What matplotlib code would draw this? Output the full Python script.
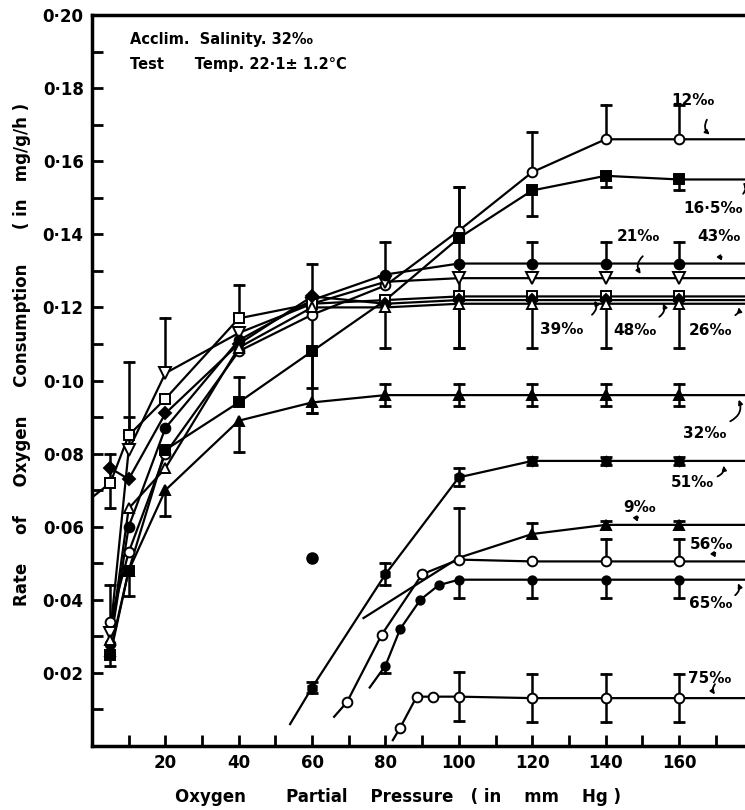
import matplotlib
matplotlib.use("Agg")
import matplotlib.pyplot as plt
import numpy as np

plt.rcParams['font.family'] = ['DejaVu Sans']
plt.rcParams['font.weight'] = 'bold'

# ---------------- data ----------------
x_up = [5, 10, 20, 40, 60, 80, 100, 120, 140, 160]
y_12 = [0.034, 0.053, 0.080, 0.108, 0.118, 0.126, 0.141, 0.157, 0.166, 0.166]
y_16 = [0.025, 0.048, 0.081, 0.094, 0.108, 0.122, 0.139, 0.152, 0.156, 0.155]
y_21 = [0.031, 0.081, 0.102, 0.113, 0.121, 0.127, 0.128, 0.128, 0.128, 0.128]
y_43 = [0.028, 0.060, 0.087, 0.111, 0.122, 0.129, 0.132, 0.132, 0.132, 0.132]
x_39 = [0, 5, 10, 20, 40, 60, 80, 100, 120, 140, 160]
y_39 = [0.068, 0.072, 0.085, 0.095, 0.117, 0.121, 0.122, 0.123, 0.123, 0.123, 0.123]
y_48 = [0.076, 0.073, 0.091, 0.110, 0.123, 0.121, 0.122, 0.122, 0.122, 0.122]
y_26 = [0.029, 0.065, 0.076, 0.109, 0.120, 0.120, 0.121, 0.121, 0.121, 0.121]
y_32 = [0.026, 0.048, 0.070, 0.089, 0.094, 0.096, 0.096, 0.096, 0.096, 0.096]

lo_12 = [0.012, 0, 0, 0, 0, 0, 0, 0, 0, 0]
hi_12 = [0.010, 0, 0, 0, 0, 0, 0.012, 0.011, 0.0095, 0.0095]
lo_16 = [0, 0, 0, 0, 0.010, 0, 0, 0.007, 0.003, 0.003]
hi_16 = [0, 0, 0, 0.007, 0, 0, 0, 0, 0, 0]
lo_21 = [0, 0, 0, 0, 0, 0, 0, 0, 0, 0]
hi_21 = [0, 0.009, 0.015, 0, 0, 0, 0, 0, 0, 0]
lo_43 = [0, 0, 0, 0, 0, 0, 0.023, 0, 0, 0]
hi_43 = [0, 0, 0, 0, 0, 0.009, 0.021, 0.006, 0.006, 0.006]
lo_39 = [0, 0.007, 0, 0, 0, 0, 0, 0, 0, 0, 0]
hi_39 = [0, 0.008, 0.020, 0, 0.009, 0, 0, 0, 0, 0, 0]
lo_48 = [0, 0, 0, 0, 0.032, 0.012, 0.013, 0.013, 0.013, 0.013]
hi_48 = [0, 0, 0, 0, 0.009, 0, 0, 0, 0, 0]
lo_26 = [0, 0, 0, 0, 0, 0, 0, 0, 0, 0]
hi_26 = [0, 0, 0, 0, 0, 0, 0, 0, 0, 0]
lo_32 = [0, 0.007, 0.007, 0.0085, 0.003, 0.003, 0.003, 0.003, 0.003, 0.003]
hi_32 = [0, 0, 0, 0, 0, 0.003, 0.003, 0.003, 0.003, 0.003]

# lower group (first value of each = start of drawn curve, no marker)
x_51 = [54, 60, 80, 100, 120, 140, 160]
y_51 = [0.006, 0.016, 0.047, 0.0735, 0.078, 0.078, 0.078]
e_51 = [0, 0.0015, 0.003, 0.0025, 0.0012, 0.0012, 0.0012]
x_9 = [74, 100, 120, 140, 160]
y_9 = [0.035, 0.0515, 0.058, 0.0605, 0.0605]
e_9 = [0, 0.0135, 0.003, 0.001, 0.001]
x_56 = [66, 69.5, 79, 90, 100, 120, 140, 160]
y_56 = [0.008, 0.012, 0.0305, 0.047, 0.051, 0.0505, 0.0505, 0.0505]
e_56 = [0, 0, 0, 0, 0, 0, 0.006, 0.006]
x_65 = [75.7, 80, 84, 89.5, 94.5, 100, 120, 140, 160]
y_65 = [0.016, 0.022, 0.032, 0.040, 0.044, 0.0455, 0.0455, 0.0455, 0.0455]
e_65 = [0, 0.002, 0, 0, 0, 0.005, 0.005, 0.005, 0.005]
x_75 = [82, 84, 88.5, 93, 100, 120, 140, 160]
y_75 = [0.0016, 0.005, 0.0135, 0.0135, 0.0135, 0.0131, 0.0131, 0.0131]
e_75 = [0, 0, 0, 0, 0.0067, 0.0065, 0.0065, 0.0065]
x_dot = [60]
y_dot = [0.0515]

x_end = 185

labels = ["12‰", "16·5‰", "21‰", "43‰", "39‰", "48‰", "26‰",
          "32‰", "51‰", "9‰", "56‰", "65‰", "75‰"]
label_pos = [(158, 0.1765), (161.3, 0.147), (143, 0.1395), (164.9, 0.1395),
             (122, 0.114), (142.2, 0.1137), (162.7, 0.1137),
             (161, 0.0855), (157.8, 0.072), (144.7, 0.0652), (163, 0.055),
             (162.7, 0.0389), (162.5, 0.0186)]
leaders = [((168, 0.172), (169, 0.1668)), ((177, 0.1505), (177, 0.1548)),
           ((150.7, 0.1345), (150, 0.1285)), ((172, 0.1345), (172.3, 0.1322)),
           ((135.7, 0.1175), (136.5, 0.1225)), ((154, 0.117), (155.3, 0.1218)),
           ((174.7, 0.1175), (176, 0.1208)),
           ((173.3, 0.0885), (176, 0.0955)), ((169.8, 0.0735), (172, 0.0775)),
           ((149.3, 0.0632), (149.3, 0.0607)), ((170.3, 0.0535), (170.6, 0.051)),
           ((174.7, 0.0408), (175.7, 0.0452)), ((170.3, 0.0175), (170.3, 0.0135))]

yticks = [0.02, 0.04, 0.06, 0.08, 0.10, 0.12, 0.14, 0.16, 0.18, 0.20]
ytick_labels = ["0·02", "0·04", "0·06", "0·08", "0·10", "0·12", "0·14",
                "0·16", "0·18", "0·20"]
xticks = [20, 40, 60, 80, 100, 120, 140, 160]

# ---------------- figure ----------------
fig = plt.figure(figsize=(7.45, 8.10), dpi=100)
ax = fig.add_axes([92 / 745, 64 / 810, 1 - 92 / 745, 731 / 810])
ax.set_xlim(0, 178)
ax.set_ylim(0, 0.20)

LW = 1.6
MS = 7


def draw_err(xs, ys, lo, hi):
    for x, y, l, h in zip(xs, ys, lo, hi):
        if h > 0:
            ax.plot([x, x], [y, y + h], color='k', lw=1.8, zorder=2)
            ax.plot([x], [y + h], marker='_', ms=9, mew=2, color='k', zorder=2)
        if l > 0:
            ax.plot([x, x], [y, y - l], color='k', lw=1.8, zorder=2)
            ax.plot([x], [y - l], marker='_', ms=9, mew=2, color='k', zorder=2)


def series(xs, ys, marker, filled, lo=None, hi=None, start=0, extend=True, ms=MS):
    lx = list(xs) + ([x_end] if extend else [])
    ly = list(ys) + ([ys[-1]] if extend else [])
    ax.plot(lx, ly, color='k', lw=LW, zorder=1, clip_on=True)
    ax.plot(xs[start:], ys[start:], ls='none', marker=marker, ms=ms,
            mfc='k' if filled else 'white', mec='k', mew=1.4, zorder=3)
    if lo is not None:
        draw_err(xs, ys, lo, hi)


series(x_up, y_12, 'o', False, lo_12, hi_12)
series(x_up, y_16, 's', True, lo_16, hi_16)
series(x_up, y_21, 'v', False, lo_21, hi_21, ms=9)
series(x_up, y_43, 'o', True, lo_43, hi_43)
series(x_39, y_39, 's', False, lo_39, hi_39, start=1)
series(x_up, y_48, 'D', True, lo_48, hi_48, ms=6)
series(x_up, y_26, '^', False, lo_26, hi_26)
series(x_up, y_32, '^', True, lo_32, hi_32)

series(x_51, y_51, 'h', True, e_51, e_51, start=1)
series(x_9, y_9, '^', True, [0] * len(e_9), e_9, start=2)
series(x_56, y_56, 'o', False, [0] * len(e_56), e_56, start=1)
series(x_65, y_65, 'o', True, e_65, [0] * len(e_65), start=1, ms=6)
series(x_75, y_75, 'o', False, e_75, e_75, start=1)
ax.plot(x_dot, y_dot, ls='none', marker='o', ms=8, color='k', zorder=3)

for t, (lx, ly) in zip(labels, label_pos):
    ax.text(lx, ly, t, fontsize=11, fontweight='bold', ha='left', va='center',
            zorder=5, clip_on=False)
for (p0, p1) in leaders:
    ax.annotate('', xy=p1, xytext=p0,
                arrowprops=dict(arrowstyle='-|>,head_length=0.25,head_width=0.12',
                                lw=1.3, color='k',
                                connectionstyle='arc3,rad=0.5'))

ax.text(0.058, 0.966, "Acclim.  Salinity. 32‰", transform=ax.transAxes,
        fontsize=10.5, fontweight='bold', va='center', ha='left')
ax.text(0.058, 0.932, "Test      Temp. 22·1± 1.2°C", transform=ax.transAxes,
        fontsize=10.5, fontweight='bold', va='center', ha='left')

# axes styling
ax.spines['right'].set_visible(False)
for s in ['left', 'bottom', 'top']:
    ax.spines[s].set_linewidth(2.5)

ax.set_yticks(yticks)
ax.set_yticklabels(ytick_labels)
ax.set_yticks(np.arange(0.01, 0.20, 0.02), minor=True)
ax.set_xticks(xticks)
ax.set_xticks(np.arange(10, 180, 20), minor=True)
ax.tick_params(axis='both', which='both', direction='in', length=8, width=2,
               labelsize=12, pad=6)
ax.tick_params(axis='y', which='both', right=False)
ax.tick_params(axis='x', which='both', top=False)
for lab in ax.get_xticklabels() + ax.get_yticklabels():
    lab.set_fontweight('bold')

ax.set_xlabel("Oxygen       Partial    Pressure   ( in    mm    Hg )",
              fontsize=12, fontweight='bold')
ax.xaxis.set_label_coords(0.468, -0.058)
ax.set_ylabel("Rate     of     Oxygen     Consumption      ( in   mg/g/h )",
              fontsize=12, fontweight='bold')
ax.yaxis.set_label_coords(-0.093, 0.535)

fig.savefig("out.png", dpi=100)
